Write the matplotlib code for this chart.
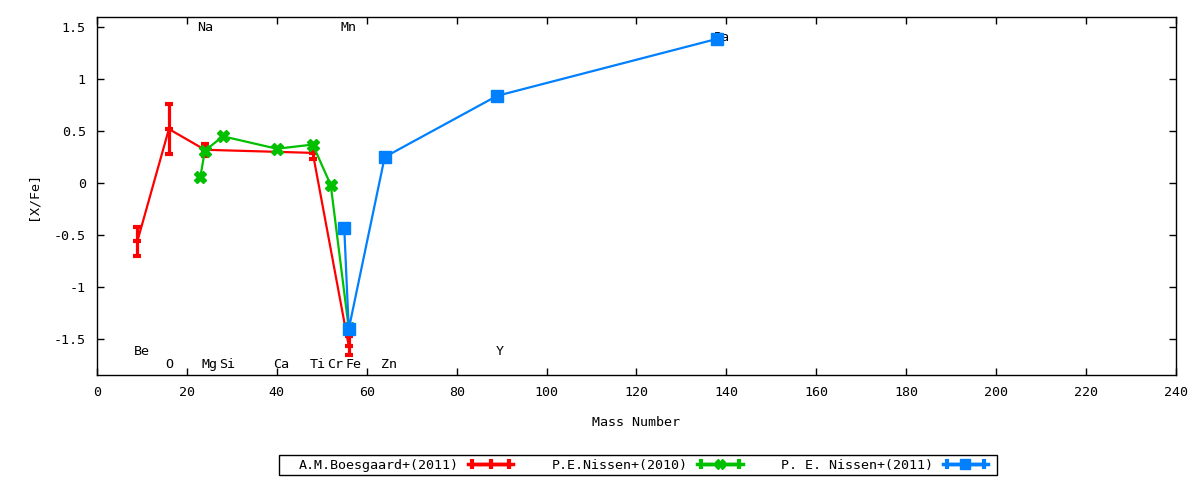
import matplotlib
matplotlib.use("Agg")
import matplotlib.pyplot as plt
from matplotlib.lines import Line2D
from matplotlib.patches import Rectangle
from matplotlib.legend_handler import HandlerLine2D, HandlerTuple

plt.rcParams['font.family'] = ['DejaVu Sans Mono']
plt.rcParams['font.size'] = 9.6

# A.M.Boesgaard+(2011)
boes_mass = [9, 16, 24, 48, 56]
boes_val = [-0.56, 0.52, 0.32, 0.29, -1.57]
boes_err = [0.14, 0.24, 0.06, 0.06, 0.09]

# P.E.Nissen+(2010)
nis10_mass = [23, 24, 28, 40, 48, 52, 56]
nis10_val = [0.06, 0.31, 0.45, 0.33, 0.37, -0.02, -1.40]

# P. E. Nissen+(2011)
nis11_mass = [55, 56, 64, 89, 138]
nis11_val = [-0.43, -1.41, 0.25, 0.84, 1.39]

# element labels
lab_text = ['Be', 'O', 'Na', 'Mg', 'Si', 'Ca', 'Ti', 'Cr', 'Fe', 'Mn', 'Zn', 'Y', 'Ba']
lab_x = [10, 16, 24, 25, 29, 41, 49, 53, 57, 56, 65, 89.5, 139]
lab_y = [-1.62, -1.75, 1.5, -1.75, -1.75, -1.75, -1.75, -1.75, -1.75, 1.5, -1.75, -1.62, 1.4]

xticks = list(range(0, 241, 20))
yticks = [-1.5, -1, -0.5, 0, 0.5, 1, 1.5]
ytick_labels = ['-1.5', '-1', '-0.5', '0', '0.5', '1', '1.5']

RED = '#ff0000'
GREEN = '#00c000'
BLUE = '#0080ff'

fig = plt.figure(figsize=(12, 4.8), dpi=100)
ax = fig.add_axes([0.0808, 0.219, 0.8992, 0.7456])

ax.errorbar(boes_mass, boes_val, yerr=boes_err, color=RED, lw=1.6,
            marker='_', ms=6, mew=3, capsize=3, capthick=3, elinewidth=2.3, zorder=3)
ax.plot(nis10_mass, nis10_val, color=GREEN, lw=1.6, marker='X', ms=8, zorder=4)
ax.plot(nis11_mass, nis11_val, color=BLUE, lw=1.6, marker='s', ms=8, zorder=5)

for t, x, y in zip(lab_text, lab_x, lab_y):
    ax.text(x, y, t, ha='center', va='center')

ax.set_xlim(0, 240)
ax.set_ylim(-1.85, 1.6)
ax.set_xticks(xticks)
ax.set_xticklabels([str(v) for v in xticks])
ax.set_yticks(yticks)
ax.set_yticklabels(ytick_labels)
ax.tick_params(direction='in', top=True, right=True, length=5, width=1, pad=8)
for s in ax.spines.values():
    s.set_linewidth(1)

ax.set_xlabel('Mass Number', labelpad=12)
ax.set_ylabel('[X/Fe]', labelpad=10)

def make_handle(color, marker, ms):
    main = Line2D([], [], color=color, lw=2.5, marker=marker, ms=ms, mew=3 if marker == '|' else 1)
    caps = Line2D([], [], color=color, lw=2.5, marker='|', ms=7, mew=3)
    return (caps, main)

h1 = make_handle(RED, '|', 7)
h2 = make_handle(GREEN, 'X', 7)
h3 = make_handle(BLUE, 's', 7)
hm = {h[0]: HandlerLine2D(numpoints=2) for h in (h1, h2, h3)}
hm.update({h[1]: HandlerLine2D(numpoints=1) for h in (h1, h2, h3)})
hm[tuple] = HandlerTuple(ndivide=1)

leg = fig.legend([h1, h2, h3],
                 ['A.M.Boesgaard+(2011)', 'P.E.Nissen+(2010)', 'P. E. Nissen+(2011)'],
                 loc='center', bbox_to_anchor=(0.536, 0.031), ncol=3,
                 markerfirst=False, frameon=False,
                 handlelength=3.4, handletextpad=0.7, columnspacing=2.9,
                 borderpad=0.1, handler_map=hm)

fig.patches.append(Rectangle((279 / 1200, 5 / 480), 718 / 1200, 20 / 480,
                             transform=fig.transFigure, fill=False,
                             edgecolor='black', linewidth=1))

fig.savefig('out.png', dpi=100)
